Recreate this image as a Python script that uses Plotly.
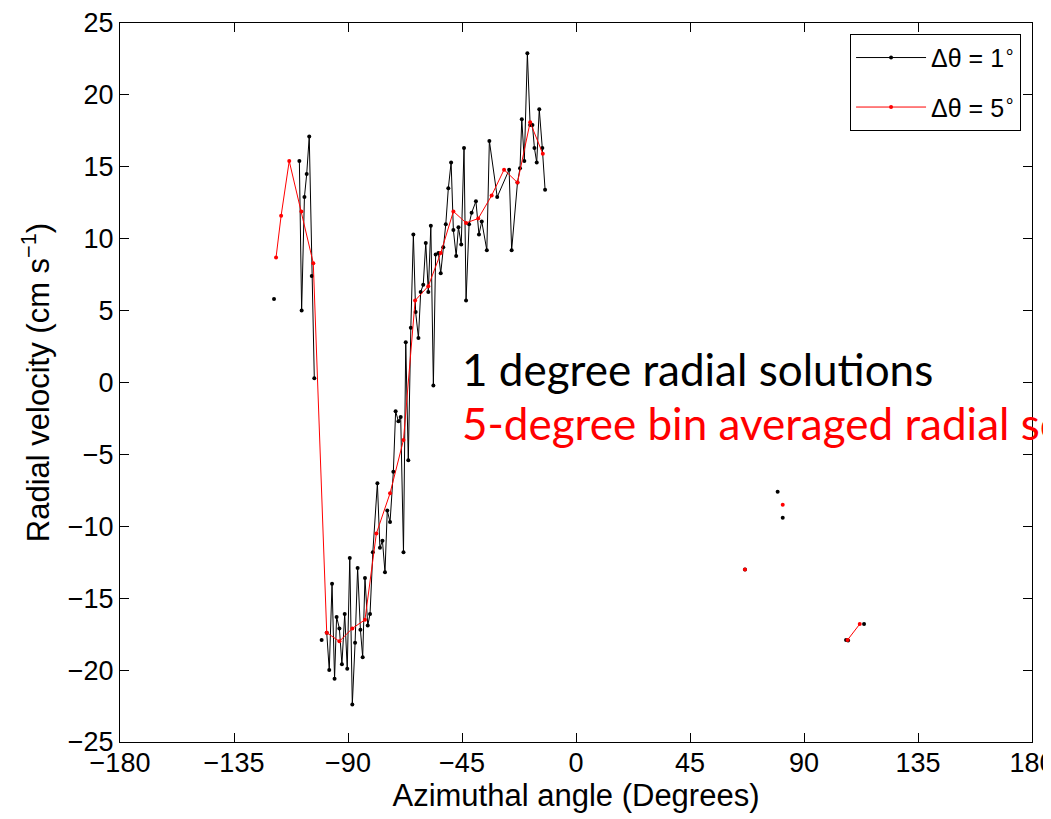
import plotly.graph_objects as go

# 1-degree radial solutions (None = gap)
x_1deg = [-119.2, None,
          -109.2, -108.3, -107.2, -106.3, -105.3, -104.3, -103.3, None,
          -100.4, None,
          -98.4, -97.4, -96.3, -95.3, -94.5, -93.4, -92.4, -91.3, -90.3, -89.3,
          -88.3, -87.2, -86.2, -85.1, -84.2, -83.3, -82.2, -81.3, -80.2, -78.4,
          -77.4, -76.4, -75.4, -74.5, -73.4, -72.1, -71.2, -70.1, -69.2, -68.1,
          -67.2, -66.2, -65.2, -64.2, -63.3, -62.2, -61.3, -60.3, -59.3, -58.3,
          -57.3, -56.3, -55.4, -54.3, -53.4, -52.4, -51.4, -50.4, -49.3, -48.4,
          -47.3, -46.4, -45.3, -44.2, -43.4, -42.2, -41.2, -39.5, -38.3, -37.2,
          -35.2, -34.2, -31.1, -26.4, -25.4, -23.1, -22.1, -21.4, -20.4, -19.2,
          -18.1, -17.2, -16.4, -15.5, -14.5, -13.3, -12.2, None,
          66.7, None, 79.6, None, 81.6, None, 106.6, 107.4, None, 113.7]
y_1deg = [5.8, None,
          15.4, 5.0, 12.9, 14.5, 17.1, 7.4, 0.3, None,
          -17.9, None,
          -17.4, -20.0, -14.0, -20.6, -16.3, -17.1, -19.6, -16.1, -19.9, -12.2,
          -22.4, -18.1, -12.9, -17.2, -19.1, -13.6, -16.9, -16.1, -11.8, -7.0,
          -11.5, -11.0, -13.2, -8.9, -9.7, -6.2, -2.0, -2.7, -2.4, -11.8,
          2.8, -5.4, 3.8, 10.3, 4.9, 3.1, 6.3, 6.8, 9.7, 6.3,
          10.9, -0.2, 8.9, 9.0, 7.6, 9.4, 11.0, 13.5, 15.3, 10.6,
          8.8, 10.8, 9.6, 16.3, 5.7, 11.0, 11.8, 12.6, 10.3, 11.2,
          9.2, 16.8, 12.9, 14.8, 9.2, 13.9, 14.9, 18.3, 15.4, 22.9,
          17.9, 17.9, 16.3, 15.3, 19.0, 16.3, 13.4, None,
          -13.0, None, -7.6, None, -9.4, None, -17.9, -17.95, None, -16.8]

# 5-degree bin averaged radial solutions
x_5deg = [-118.4, -116.4, -113.2, -108.4, -103.7, -98.4, -93.4, -88.3, -83.3,
          -78.8, -73.4, -68.1, -63.5, -58.3, -53.4, -48.4, -43.4, -38.6, -33.3,
          -28.4, -23.1, -18.1, -13.1, None,
          66.7, None, 81.6, None, 107.2, 112.0]
y_5deg = [8.7, 11.6, 15.4, 11.9, 8.3, -17.4, -18.0, -17.1, -16.5,
          -10.5, -7.7, -4.0, 5.7, 6.7, 9.0, 11.9, 11.1, 11.4, 13.0,
          14.8, 13.9, 18.1, 15.9, None,
          -13.0, None, -8.5, None, -17.9, -16.8]

x_ticks = [-180, -135, -90, -45, 0, 45, 90, 135, 180]
y_ticks = [-25, -20, -15, -10, -5, 0, 5, 10, 15, 20, 25]


def tick_text(vals):
    return [str(v) if v >= 0 else "−" + str(-v) for v in vals]


fig = go.Figure()
fig.add_trace(go.Scatter(
    x=x_1deg, y=y_1deg, mode="lines+markers", connectgaps=False,
    name="Δθ = 1<sup>∘</sup>", legendgroup="a",
    line=dict(color="black", width=1),
    marker=dict(color="black", size=4, symbol="circle"),
))
fig.add_trace(go.Scatter(
    x=x_5deg, y=y_5deg, mode="lines+markers", connectgaps=False,
    name="Δθ = 5<sup>∘</sup>", legendgroup="b",
    line=dict(color="#ff0000", width=1),
    marker=dict(color="#ff0000", size=4, symbol="circle"),
))

fig.add_annotation(xref="paper", yref="paper", x=0.373, y=0.519,
                   xanchor="left", yanchor="middle", showarrow=False,
                   text="1 degree radial solutions",
                   font=dict(family="Lato", size=44, color="black"))
fig.add_annotation(xref="paper", yref="paper", x=0.373, y=0.443,
                   xanchor="left", yanchor="middle", showarrow=False,
                   text="5-degree bin averaged radial solutions",
                   font=dict(family="Lato", size=44, color="#ff0000"))

axis_common = dict(showgrid=False, zeroline=False, showline=True,
                   linecolor="black", linewidth=1, mirror="ticks",
                   ticks="inside", ticklen=9, tickwidth=1, tickcolor="black",
                   automargin=False, ticklabeloverflow="allow",
                   tickfont=dict(family="Liberation Sans", size=27, color="black"))

fig.update_xaxes(range=[-180, 180], tickvals=x_ticks, ticktext=tick_text(x_ticks),
                 ticklabelstandoff=-3,
                 title=dict(text="Azimuthal angle (Degrees)", standoff=0,
                            font=dict(family="Liberation Sans", size=31, color="black")),
                 **axis_common)
fig.update_yaxes(range=[-25, 25], tickvals=y_ticks, ticktext=tick_text(y_ticks),
                 title=dict(text="Radial velocity (cm s<sup>−1</sup>)", standoff=8,
                            font=dict(family="Liberation Sans", size=31, color="black")),
                 **axis_common)

# The page body has an 8px default margin; size/margins compensate so the
# plot area lands where the reference has it.
fig.update_layout(
    width=1043, height=811,
    margin=dict(l=112, r=19, t=15, b=77, autoexpand=False),
    paper_bgcolor="white", plot_bgcolor="white",
    showlegend=True,
    legend=dict(x=0.988, y=0.985, xanchor="right", yanchor="top",
                bordercolor="black", borderwidth=1, bgcolor="white",
                font=dict(family="Liberation Sans", size=25, color="black"),
                itemwidth=70, tracegroupgap=14, traceorder="grouped"),
)

fig.write_html("out.html")
